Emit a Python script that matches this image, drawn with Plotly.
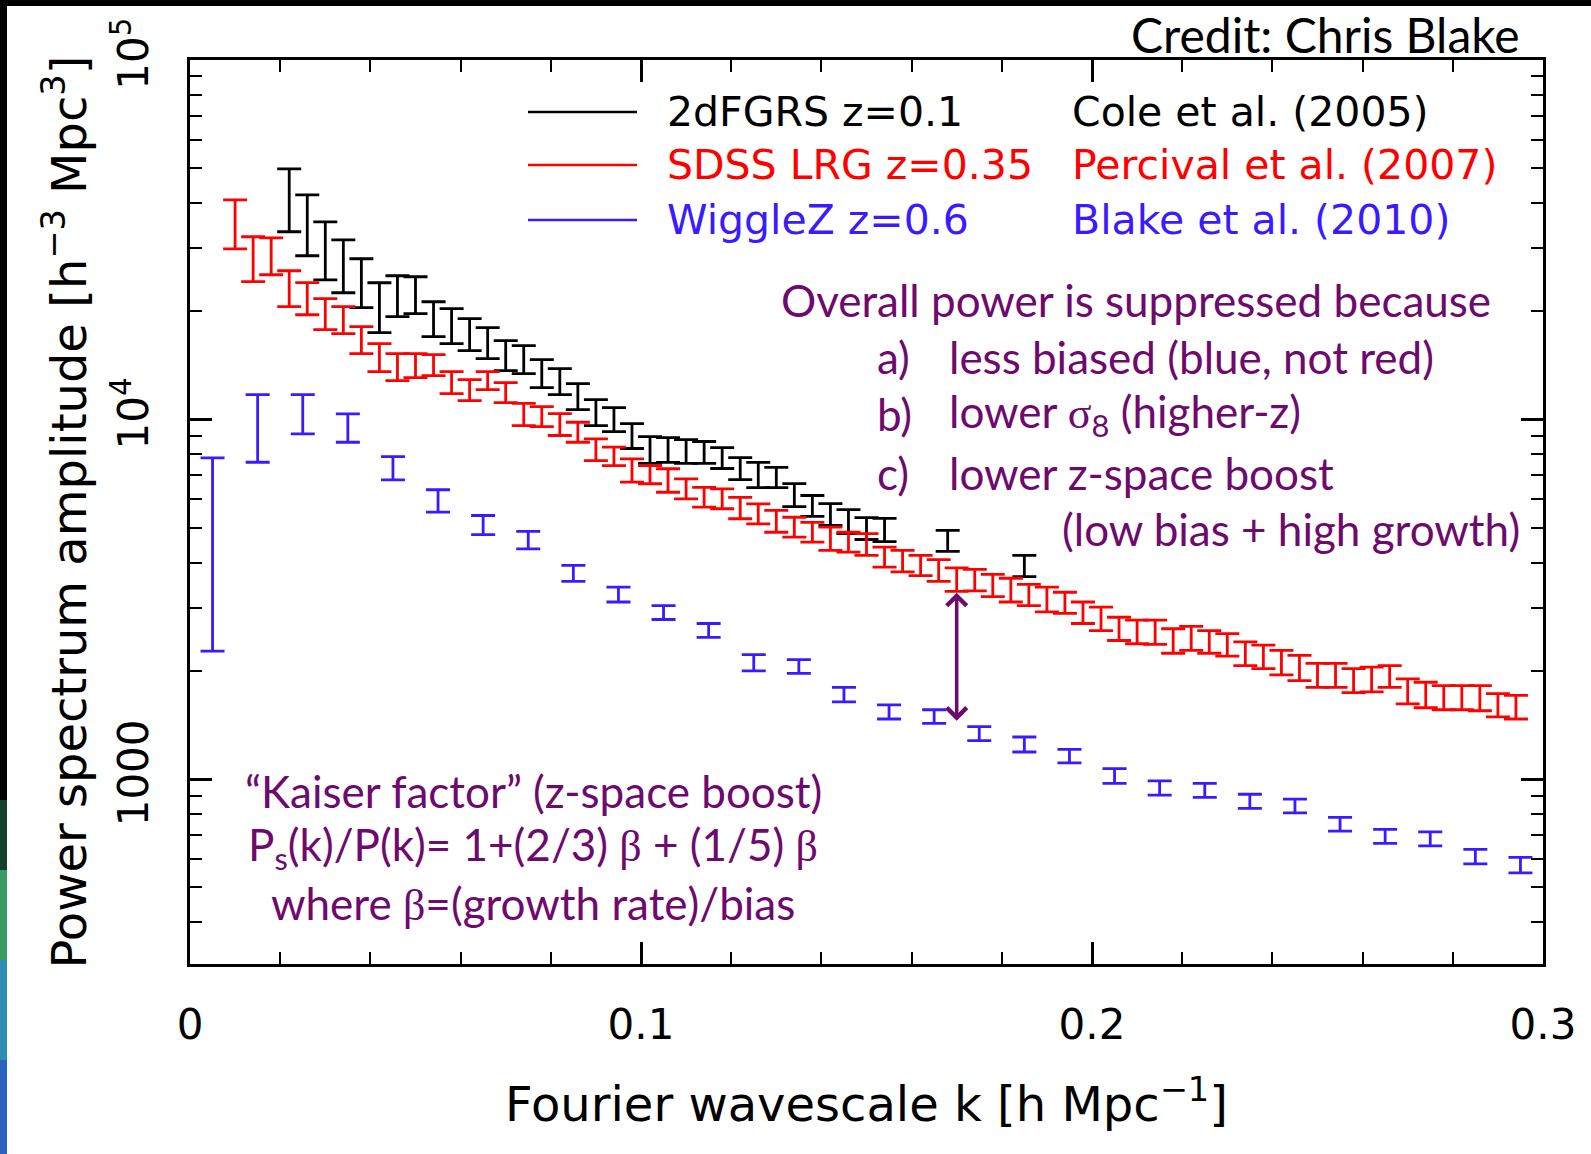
import math
import plotly.graph_objects as go

# ---------------- data ----------------
# 2dFGRS z=0.1 (Cole et al. 2005)
k_2df = [0.022, 0.026, 0.030, 0.034, 0.038, 0.042, 0.046, 0.050, 0.054, 0.058,
         0.062, 0.066, 0.070, 0.074, 0.078, 0.082, 0.086, 0.090, 0.094, 0.098,
         0.102, 0.106, 0.110, 0.114, 0.118, 0.122, 0.126, 0.130, 0.134, 0.138,
         0.142, 0.146, 0.150, 0.154, 0.168, 0.185]
p_2df_hi = [49800, 42170, 35480, 31620, 28010, 24020, 25120, 24960, 21270, 20340,
            19090, 18020, 16580, 16060, 14680, 13860, 12590, 11360, 10800, 9750,
            8970, 8910, 8800, 8690, 8360, 7840, 7600, 7360, 6640, 6150,
            5840, 5620, 5340, 5310, 4920, 4190]
p_2df_lo = [33290, 28550, 24480, 22530, 20480, 17450, 19330, 19700, 17010, 16260,
            15550, 14770, 13680, 13420, 12270, 11730, 10660, 9620, 9260, 8310,
            7550, 7600, 7550, 7550, 7310, 6810, 6470, 6470, 5730, 5380,
            5080, 4820, 4640, 4580, 4300, 3660]

# SDSS LRG z=0.35 (Percival et al. 2007)
k_sdss = [0.010, 0.014, 0.018, 0.022, 0.026, 0.030, 0.034, 0.038, 0.042, 0.046,
          0.050, 0.054, 0.058, 0.062, 0.066, 0.070, 0.074, 0.078, 0.082, 0.086,
          0.090, 0.094, 0.098, 0.102, 0.106, 0.110, 0.114, 0.118, 0.122, 0.126,
          0.130, 0.134, 0.138, 0.142, 0.146, 0.150, 0.154, 0.158, 0.162, 0.166,
          0.170, 0.174, 0.178, 0.182, 0.186, 0.190, 0.194, 0.198, 0.202, 0.206,
          0.210, 0.214, 0.218, 0.222, 0.226, 0.230, 0.234, 0.238, 0.242, 0.246,
          0.250, 0.254, 0.258, 0.262, 0.266, 0.270, 0.274, 0.278, 0.282, 0.286,
          0.290, 0.294]
p_sdss_hi = [40840, 32240, 32030, 25940, 24030, 21690, 20600, 18130, 16260, 15250,
             15250, 15160, 13600, 12920, 13600, 12670, 11100, 10870, 10390, 9830,
             8840, 8380, 7780, 7450, 7300, 6840, 6480, 6420, 6080, 5830,
             5590, 5350, 5180, 5020, 4860, 4820, 4420, 4330, 4190, 4080,
             3870, 3830, 3710, 3620, 3480, 3420, 3310, 3110, 3010, 2820,
             2770, 2770, 2620, 2660, 2590, 2540, 2410, 2360, 2280, 2210,
             2100, 2100, 2030, 2050, 2070, 1900, 1860, 1820, 1820, 1820,
             1730, 1710]
p_sdss_lo = [29850, 24180, 25280, 20600, 19570, 17780, 17330, 15250, 13600, 12830,
             13080, 13250, 11810, 11290, 12120, 11150, 9620, 9560, 9030, 8650,
             7690, 7450, 6700, 6630, 6280, 6020, 5710, 5650, 5300, 5130,
             4860, 4710, 4560, 4330, 4280, 4190, 3890, 3770, 3680, 3550,
             3330, 3340, 3220, 3110, 3040, 2920, 2890, 2710, 2590, 2430,
             2380, 2370, 2240, 2280, 2240, 2200, 2070, 2030, 1950, 1880,
             1800, 1800, 1740, 1750, 1800, 1620, 1580, 1560, 1560, 1550,
             1490, 1470]

# WiggleZ z=0.6 (Blake et al. 2010)
k_wz = [0.005, 0.015, 0.025, 0.035, 0.045, 0.055, 0.065, 0.075, 0.085, 0.095,
        0.105, 0.115, 0.125, 0.135, 0.145, 0.155, 0.165, 0.175, 0.185, 0.195,
        0.205, 0.215, 0.225, 0.235, 0.245, 0.255, 0.265, 0.275, 0.285, 0.295]
p_wz_hi = [7830, 11730, 11730, 10370, 7890, 6380, 5410, 4890, 3930, 3420,
           3040, 2710, 2220, 2150, 1800, 1610, 1560, 1400, 1310, 1210,
           1070, 989, 973, 908, 880, 783, 725, 714, 638, 606]
p_wz_lo = [2270, 7610, 9130, 8650, 6800, 5530, 4790, 4370, 3550, 3110,
           2780, 2480, 2000, 1970, 1640, 1470, 1430, 1280, 1190, 1110,
           973, 903, 890, 829, 806, 717, 663, 652, 581, 549]

series_names = ["2dFGRS z=0.1", "SDSS LRG z=0.35", "WiggleZ z=0.6"]
series_refs = ["Cole et al. (2005)", "Percival et al. (2007)", "Blake et al. (2010)"]
series_colors = ["#000000", "#ff0000", "#3a1aff"]

x_ticks = [0, 0.1, 0.2, 0.3]
x_ticktext = ["0", "0.1", "0.2", "0.3"]
y_ticks = [1000, 10000, 100000]
y_ticktext = ["1000", "10<sup>4</sup>", "10<sup>5</sup>"]
y_minor = [m * 10 ** e for e in (2, 3, 4) for m in range(2, 10)]

arrow_k = 0.170
arrow_top = 3300
arrow_bottom = 1440

# ---------------- layout geometry ----------------
W, H = 1591, 1154
ML, MR, MT, MB = 190, 48, 60, 190
PW = W - ML - MR
PH = H - MT - MB


def px(x):
    return (x - ML) / PW


def py(y):
    return (H - MB - y) / PH


PURPLE = "#6e0a6e"
HERSHEY = "DejaVu Sans"
SLIDE = "Lato"

fig = go.Figure()


def add_series(k, lo, hi, color):
    mid = [math.sqrt(a * b) for a, b in zip(lo, hi)]
    fig.add_trace(go.Scatter(
        x=k, y=mid, mode="markers",
        marker=dict(size=2, color=color, opacity=0),
        error_y=dict(type="data", symmetric=False,
                     array=[h - m for h, m in zip(hi, mid)],
                     arrayminus=[m - l for m, l in zip(mid, lo)],
                     color=color, thickness=2.8, width=12),
        showlegend=False, hoverinfo="skip"))


add_series(k_2df, p_2df_lo, p_2df_hi, series_colors[0])
add_series(k_sdss, p_sdss_lo, p_sdss_hi, series_colors[1])
add_series(k_wz, p_wz_lo, p_wz_hi, series_colors[2])

axis_common = dict(
    showline=True, linewidth=2.5, linecolor="black", mirror="allticks",
    ticks="inside", ticklen=22, tickwidth=2.5, tickcolor="black",
    showgrid=False, zeroline=False,
    tickfont=dict(family=HERSHEY, size=42, color="black"),
)

fig.update_xaxes(
    range=[0, 0.3], tickmode="array", tickvals=x_ticks, ticktext=x_ticktext,
    ticklabelstandoff=22,
    minor=dict(dtick=0.02, tick0=0, ticks="inside", ticklen=12, tickwidth=2.2,
               tickcolor="black", showgrid=False),
    title=dict(text="Fourier wavescale k [h Mpc<sup>\u22121</sup>]",
               font=dict(family=HERSHEY, size=48, color="black"), standoff=40),
    **axis_common)

fig.update_yaxes(
    type="log", range=[2.486, 5.0], tickmode="array", tickvals=y_ticks,
    ticktext=y_ticktext, tickangle=-90, ticklabelstandoff=22,
    minor=dict(tickvals=y_minor, ticks="inside", ticklen=12, tickwidth=2.2,
               tickcolor="black", showgrid=False),
    title=dict(text="Power spectrum amplitude [h<sup>\u22123</sup> Mpc<sup>3</sup>]",
               font=dict(family=HERSHEY, size=48, color="black"), standoff=3),
    **axis_common)

fig.update_layout(
    width=W, height=H, margin=dict(l=ML, r=MR, t=MT, b=MB),
    paper_bgcolor="white", plot_bgcolor="white", showlegend=False,
)

# ----- legend drawn inside the plot -----
legend_y = [112, 165, 220]
for name, ref, col, yy in zip(series_names, series_refs, series_colors, legend_y):
    fig.add_shape(type="line", xref="paper", yref="paper",
                  x0=px(528), x1=px(637), y0=py(yy), y1=py(yy),
                  line=dict(color=col, width=2.5))
    fig.add_annotation(xref="paper", yref="paper", x=px(665), y=py(yy),
                       xanchor="left", yanchor="middle", showarrow=False,
                       text=name, font=dict(family=HERSHEY, size=41, color=col))
    fig.add_annotation(xref="paper", yref="paper", x=px(1070), y=py(yy),
                       xanchor="left", yanchor="middle", showarrow=False,
                       text=ref, font=dict(family=HERSHEY, size=41, color=col))

# ----- slide annotations -----
GREEK = "<span style=\"font-family:'Liberation Serif'\">{}</span>"
beta = GREEK.format("\u03b2")
sigma = GREEK.format("\u03c3")


def note(x, y, text, anchor="left", size=44, color=PURPLE):
    fig.add_annotation(xref="paper", yref="paper", x=px(x), y=py(y),
                       xanchor=anchor, yanchor="middle", showarrow=False,
                       text=text, font=dict(family=SLIDE, size=size, color=color))


note(779, 300, "Overall power is suppressed because")
note(875, 357, "a)")
note(947, 357, "less biased (blue, not red)")
note(875, 414, "b)")
note(947, 414, "lower " + sigma + "<sub>8</sub> (higher-z)")
note(875, 473, "c)")
note(947, 473, "lower z-space boost")
note(1522, 529, "(low bias + high growth)", anchor="right")

note(533, 791, "\u201cKaiser factor\u201d (z-space boost)", anchor="center")
note(533, 847, "P<sub>s</sub>(k)/P(k)= 1+(2/3) " + beta + " + (1/5) " + beta, anchor="center")
note(533, 903, "where " + beta + "=(growth rate)/bias", anchor="center")

note(1522, 35, "Credit: Chris Blake", anchor="right", size=48, color="black")

# double-headed arrow between SDSS and WiggleZ
fig.add_annotation(x=arrow_k, y=math.log10(arrow_top), ax=arrow_k,
                   ay=math.log10(arrow_bottom), xref="x", yref="y",
                   axref="x", ayref="y", text="", showarrow=True,
                   arrowhead=4, startarrowhead=4, arrowside="end+start",
                   arrowsize=1.1, startarrowsize=1.1, arrowwidth=3.5,
                   arrowcolor=PURPLE)

# slide border strips (black frame + background image edge)
fig.add_shape(type="rect", xref="paper", yref="paper", x0=px(0), x1=px(W),
              y0=py(0), y1=py(6), line=dict(width=0), fillcolor="black", layer="above")
strips = [(0, 800, "black"), (800, 870, "#16402e"), (870, 960, "#3a9a66"),
          (960, 1060, "#2a8fb0"), (1060, H, "#2a62c0")]
for y0, y1, col in strips:
    fig.add_shape(type="rect", xref="paper", yref="paper", x0=px(0), x1=px(7),
                  y0=py(y0), y1=py(y1), line=dict(width=0), fillcolor=col,
                  layer="above")

fig.write_html("out.html")
